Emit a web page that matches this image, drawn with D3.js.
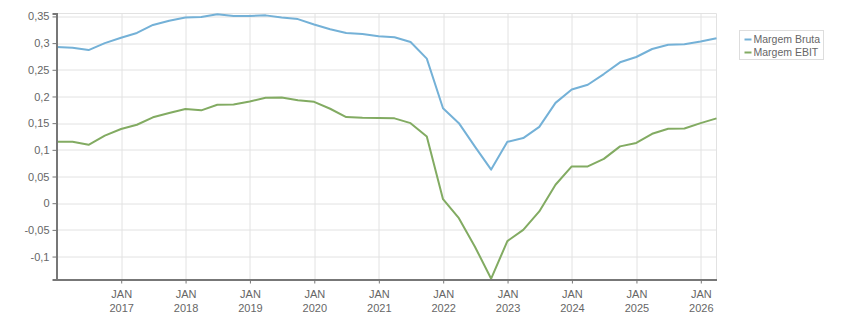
<!DOCTYPE html>
<html>
<head>
<meta charset="utf-8">
<script src="https://cdn.jsdelivr.net/npm/d3@7"></script>
<style>
  body { margin: 0; background: #fff; }
  svg { display: block; font-family: "Liberation Sans", Arial, sans-serif; }
  .axis text { fill: #666; font-size: 11px; }
  .grid line { stroke: #e2e2e2; }
  .legend text { fill: #666; font-size: 10.5px; }
</style>
</head>
<body>
<svg width="851" height="313"></svg>
<script>
// quarterly data (quarter end dates)
var quarters = ["2015-12-31","2016-03-31","2016-06-30","2016-09-30","2016-12-31",
  "2017-03-31","2017-06-30","2017-09-30","2017-12-31","2018-03-31","2018-06-30",
  "2018-09-30","2018-12-31","2019-03-31","2019-06-30","2019-09-30","2019-12-31",
  "2020-03-31","2020-06-30","2020-09-30","2020-12-31","2021-03-31","2021-06-30",
  "2021-09-30","2021-12-31","2022-03-31","2022-06-30","2022-09-30","2022-12-31",
  "2023-03-31","2023-06-30","2023-09-30","2023-12-31","2024-03-31","2024-06-30",
  "2024-09-30","2024-12-31","2025-03-31","2025-06-30","2025-09-30","2025-12-31",
  "2026-03-31"];

var margemBruta = [0.2925,0.2915,0.287,0.300,0.310,0.319,0.334,0.342,0.348,0.349,0.354,
  0.351,0.351,0.352,0.348,0.345,0.335,0.326,0.319,0.317,0.313,0.311,0.302,
  0.271,0.178,0.150,0.106,0.063,0.115,0.122,0.143,0.188,0.213,0.222,0.242,
  0.264,0.274,0.289,0.297,0.298,0.303,0.309];

var margemEbit = [0.115,0.115,0.1095,0.1265,0.139,0.147,0.161,0.169,0.1765,0.174,0.1845,
  0.185,0.1905,0.1975,0.198,0.193,0.190,0.177,0.1615,0.160,0.1595,0.159,0.150,
  0.125,0.0075,-0.028,-0.0815,-0.1415,-0.071,-0.050,-0.0155,0.0345,0.069,0.069,0.083,
  0.1065,0.113,0.130,0.1395,0.140,0.150,0.159];

var seriesNames = ["Margem Bruta", "Margem EBIT"];
var seriesColors = ["#74b1d7", "#82ab62"];

var yTicks = [-0.1, -0.05, 0, 0.05, 0.1, 0.15, 0.2, 0.25, 0.3, 0.35];
var xTickYears = [2017, 2018, 2019, 2020, 2021, 2022, 2023, 2024, 2025, 2026];

var svg = d3.select("svg"),
    margin = {top: 13.5, left: 56.5},
    width = 660,
    height = 266;

var parse = d3.timeParse("%Y-%m-%d");
var dates = quarters.map(parse);

var x = d3.scaleTime()
    .domain([dates[0], dates[dates.length - 1]])
    .range([0, width]);
var y = d3.scaleLinear()
    .domain([-0.143, 0.3555])
    .range([height, 0]);

var g = svg.append("g")
    .attr("transform", "translate(" + margin.left + "," + margin.top + ")");

function fmt(v) {
    return String(+v.toFixed(2)).replace(".", ",");
}

// grid
var grid = g.append("g").attr("class", "grid");
grid.selectAll(".hy").data(yTicks).enter().append("line")
    .attr("x1", 0).attr("x2", width)
    .attr("y1", function(d) { return Math.round(y(d)) + 0.5; })
    .attr("y2", function(d) { return Math.round(y(d)) + 0.5; });
grid.selectAll(".vx").data(xTickYears).enter().append("line")
    .attr("y1", 0).attr("y2", height)
    .attr("x1", function(d) { return Math.round(x(new Date(d, 0, 1))) + 0.5; })
    .attr("x2", function(d) { return Math.round(x(new Date(d, 0, 1))) + 0.5; });
// top & right border
grid.append("line").attr("x1", 0).attr("x2", width).attr("y1", 0).attr("y2", 0);
grid.append("line").attr("x1", width).attr("x2", width).attr("y1", 0).attr("y2", height);

// lines
var line = d3.line()
    .x(function(d, i) { return x(dates[i]); })
    .y(function(d) { return y(d); });

[margemBruta, margemEbit].forEach(function(vals, i) {
    g.append("path")
        .datum(vals)
        .attr("fill", "none")
        .attr("stroke", seriesColors[i])
        .attr("stroke-width", 2)
        .attr("stroke-linejoin", "round")
        .attr("d", line);
});

// y axis
var yAxis = d3.axisLeft(y)
    .tickValues(yTicks)
    .tickFormat(fmt)
    .tickSize(4)
    .tickPadding(3);
var ya = g.append("g").attr("class", "axis").call(yAxis);
ya.select(".domain").attr("stroke", "#777").attr("stroke-width", 2);
ya.selectAll(".tick line").attr("stroke", "#777");

// x axis
var xAxis = d3.axisBottom(x)
    .tickValues(xTickYears.map(function(d) { return new Date(d, 0, 1); }))
    .tickFormat("")
    .tickSize(4)
    .tickSizeOuter(0);
var xa = g.append("g").attr("class", "axis")
    .attr("transform", "translate(0," + height + ")")
    .call(xAxis);
xa.select(".domain").attr("stroke", "#777").attr("stroke-width", 2);
xa.selectAll(".tick line").attr("stroke", "#777");
xa.selectAll(".tick").append("text")
    .attr("text-anchor", "middle")
    .attr("y", 18)
    .text("JAN");
xa.selectAll(".tick").append("text")
    .attr("text-anchor", "middle")
    .attr("y", 32)
    .text(function(d) { return d.getFullYear(); });

// legend
var legend = svg.append("g").attr("class", "legend")
    .attr("transform", "translate(739.5,30.5)");
legend.append("rect")
    .attr("width", 84).attr("height", 29)
    .attr("fill", "#fff").attr("stroke", "#ddd");
seriesNames.forEach(function(name, i) {
    var row = legend.append("g").attr("transform", "translate(5," + (9 + i * 13) + ")");
    row.append("line")
        .attr("x1", 0).attr("x2", 7)
        .attr("stroke", seriesColors[i]).attr("stroke-width", 2);
    row.append("text")
        .attr("x", 9).attr("dy", "0.35em")
        .text(name);
});
</script>
</body>
</html>
